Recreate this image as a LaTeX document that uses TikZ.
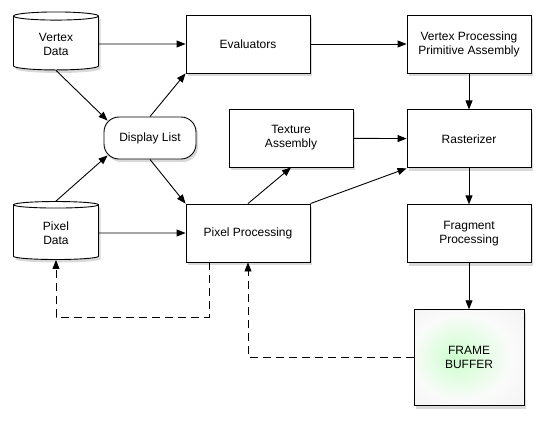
\documentclass[tikz,border=0pt]{standalone}
\usepackage{fontspec}
\setmainfont{Liberation Sans}
\usetikzlibrary{positioning,arrows.meta,shapes.geometric,shadows}
\pgfdeclareradialshading{fbglow}{\pgfpoint{-6bp}{0bp}}{color(0bp)=(green!20);
  color(22bp)=(green!14!gray!4); color(36bp)=(gray!9); color(50bp)=(gray!14)}

\begin{document}
\begin{tikzpicture}[x=1pt,y=-1pt,>={Triangle[length=9pt,width=7pt]},
    font=\fontsize{12}{14}\selectfont,line width=0.9pt,node distance=36pt,
    shade/.style={drop shadow={shadow xshift=2pt,shadow yshift=-3pt,opacity=0.3}},
    box/.style={draw,fill=white,align=center,minimum width=124pt,minimum height=58pt,shade},
    store/.style={draw,fill=white,cylinder,shape border rotate=90,aspect=0.2,align=center,
      minimum width=85pt,minimum height=58pt,shade},
    feedback/.style={->,dash pattern=on 8pt off 5pt}]
  \useasboundingbox (0,0) rectangle (543,421);
  % sources on the left
  \node[store] (vdata) at (56,44) {Vertex\\Data};
  \node[store] (pdata) at (56,233) {Pixel\\Data};
  \node[draw,fill=white,rounded corners=15pt,minimum width=92pt,minimum height=42pt,shade] (dlist)
    at (150,138) {Display List};
  % middle
  \node[box] (eval) at (248,44) {Evaluators};
  \node[box] (pproc) at (248,233) {Pixel Processing};
  \node[box] (tex) at (291,138) {Texture\\Assembly};
  % right column
  \node[box] (vproc) at (469,44) {Vertex Processing\\Primitive Assembly};
  \node[box,below=of vproc] (rast) {Rasterizer};
  \node[box,below=of rast] (frag) {Fragment\\Processing};
  \node[draw,align=center,minimum width=110pt,minimum height=96pt,shade,
    shading=fbglow,below=46pt of frag] (fbuf) {FRAME\\BUFFER};
  \draw[->] (vdata) -- (eval);
  \draw[->] (vdata.south) -- ([shift={(4,4)}]dlist.north west);
  \draw[->] (pdata.north) -- ([shift={(4,-4)}]dlist.south west);
  \draw[->] (dlist.north) -- (eval.south west);
  \draw[->] (dlist.south) -- (pproc.north west);
  \draw[->] (pdata) -- (pproc);
  \draw[->] (eval) -- (vproc);
  \draw[->] (pproc.north) -- (tex.south);
  \draw[->] (pproc.north east) -- (rast.south west);
  \draw[->] (tex) -- (rast);
  \draw[->] (vproc) -- (rast);
  \draw[->] (rast) -- (frag);
  \draw[->] (frag) -- (fbuf);
  % read back paths
  \draw[feedback] ([xshift=-39pt]pproc.south) -- ++(0,55) -| (pdata.south);
  \draw[feedback] (fbuf.west) -| (pproc.south);
\end{tikzpicture}
\end{document}
